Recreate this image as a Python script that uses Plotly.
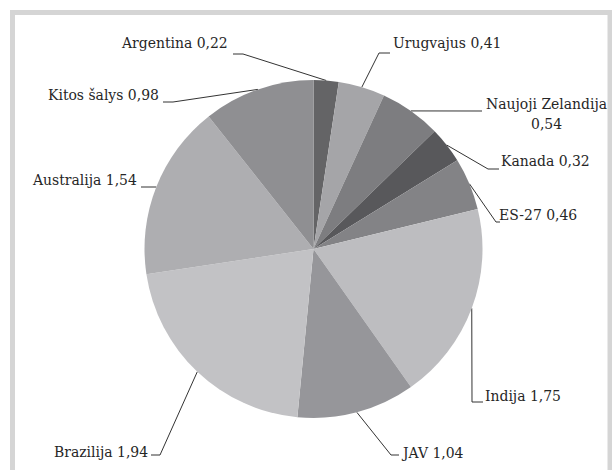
import numpy as np
import plotly.graph_objects as go

# ---------------------------------------------------------------------------
# data

countries = ["Argentina", "Urugvajus", "Naujoji Zelandija", "Kanada", "ES-27",
             "Indija", "JAV", "Brazilija", "Australija", "Kitos šalys"]
values = [0.22, 0.41, 0.54, 0.32, 0.46, 1.75, 1.04, 1.94, 1.54, 0.98]
colors = ["#646466", "#a5a5a8", "#7d7d80", "#58585b", "#838386",
          "#bdbdc0", "#96969a", "#c2c2c5", "#aeaeb1", "#8f8f92"]

# ---------------------------------------------------------------------------
# layout (pixel space of the 612x470 page)

W, H = 612, 470
CX, CY, R = 313.5, 249.0, 169.0

# text position (x, y centre, xanchor) and leader-line bends for each label
label_pos = [
    (229, 43, "right"),
    (392, 43, "left"),
    (546, 114, "center"),
    (500, 161, "left"),
    (498, 215, "left"),
    (484, 396, "left"),
    (400, 453, "left"),
    (149, 452, "right"),
    (138, 180, "right"),
    (160, 95, "right"),
]
leader_bends = [
    [(243, 54), (233, 54)],
    [(379, 53), (390, 53)],
    [(482, 111)],
    [(488, 169), (499, 169)],
    [(496, 222), (500, 222)],
    [(472, 402), (483, 402)],
    [(391, 455), (399, 455)],
    [(160, 455), (151, 455)],
    [(141, 187)],
    [(173, 102), (163, 102)],
]

FONT = dict(family="DejaVu Serif Condensed, DejaVu Serif", size=15.5, color="#262626")


def _slice_anchors(vals):
    """Point on the rim at the middle of each slice (clockwise from 12 o'clock)."""
    v = np.asarray(vals, dtype=float)
    mid = (np.cumsum(v) - v / 2.0) / v.sum() * 2 * np.pi
    return CX + R * np.sin(mid), CY - R * np.cos(mid)


fig = go.Figure()

fig.add_trace(go.Pie(
    labels=countries,
    values=values,
    sort=False,
    direction="clockwise",
    rotation=0,
    marker=dict(colors=colors, line=dict(width=0)),
    textinfo="none",
    hoverinfo="skip",
    showlegend=False,
    domain=dict(x=[(CX - R) / W, (CX + R) / W], y=[1 - (CY + R) / H, 1 - (CY - R) / H]),
))

# leader lines
ax, ay = _slice_anchors(values)
lx, ly = [], []
for x0, y0, bends in zip(ax, ay, leader_bends):
    pts = [(x0, y0)] + bends
    lx += [p[0] for p in pts] + [None]
    ly += [p[1] for p in pts] + [None]
fig.add_trace(go.Scatter(x=lx, y=ly, mode="lines", line=dict(color="#333333", width=1),
                         hoverinfo="skip", showlegend=False))

# labels
for name, v, (tx, ty, anchor) in zip(countries, values, label_pos):
    sep = "<br>" if name == "Naujoji Zelandija" else " "
    fig.add_annotation(x=tx, y=ty, xref="x", yref="y", text=f"{name}{sep}{v:.2f}".replace(".", ","),
                       showarrow=False, xanchor=anchor, yanchor="middle", font=FONT, borderpad=0)

# grey frame round the chart area
fig.add_shape(type="rect", xref="x", yref="y", x0=12.5, y0=12.5, x1=610, y1=490,
              line=dict(color="#d5d5d5", width=5), layer="below")

fig.update_xaxes(range=[0, W], visible=False, fixedrange=True)
fig.update_yaxes(range=[H, 0], visible=False, fixedrange=True)
fig.update_layout(
    width=W, height=H,
    margin=dict(l=0, r=0, t=0, b=0),
    font=FONT,
    paper_bgcolor="white", plot_bgcolor="white",
)

# the page body has a default 8px margin; drop it so the figure sits at 0,0
fig.write_html("out.html", config={"displayModeBar": False},
               post_script="document.body.style.margin='0';")
